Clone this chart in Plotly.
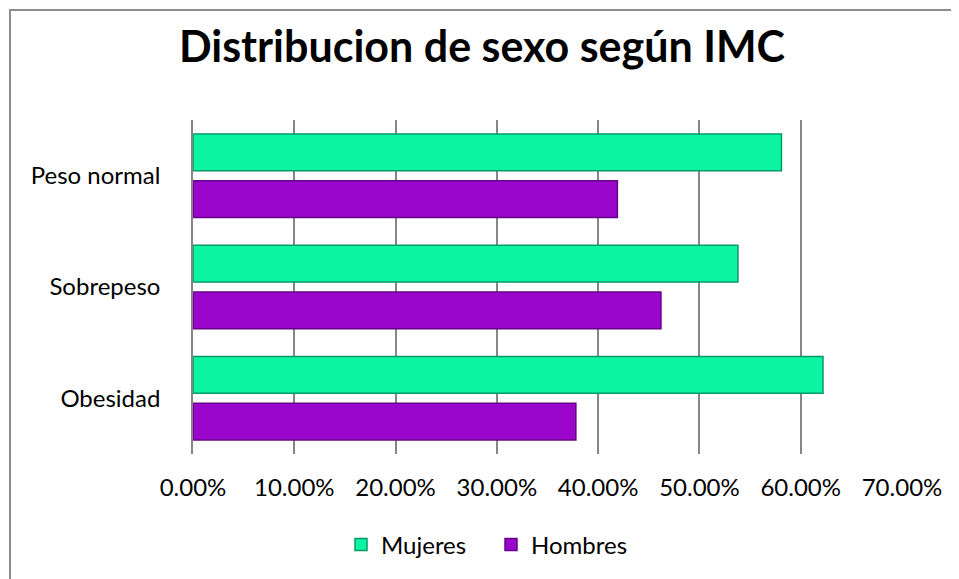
import plotly.graph_objects as go

# datos
categorias = ["Obesidad", "Sobrepeso", "Peso normal"]
mujeres = [0.622, 0.538, 0.581]
hombres = [0.378, 0.462, 0.419]
x_ticks = [0, 0.1, 0.2, 0.3, 0.4, 0.5, 0.6, 0.7]

# la pagina tiene 8px de margen en el body
OFF = 8
W, H = 959 - OFF, 579 - OFF
L, R, T, B = 193 - OFF, 959 - 902, 120 - OFF, 579 - 454
pw, ph = W - L - R, H - T - B


def py(y_px):
    # pixel de pantalla -> coordenada paper vertical
    return (H - B - (y_px - OFF)) / ph


fig = go.Figure()
fig.add_trace(go.Bar(
    y=categorias, x=mujeres, name="Mujeres", orientation="h",
    width=0.33, offset=0.045,
    marker=dict(color="#0BF5A2", line=dict(color="#079A68", width=1.5)),
))
fig.add_trace(go.Bar(
    y=categorias, x=hombres, name="Hombres", orientation="h",
    width=0.33, offset=-0.375,
    marker=dict(color="#9A06CC", line=dict(color="#650488", width=1.5)),
))

# marco exterior del grafico
fig.add_shape(type="rect", xref="paper", yref="paper",
              x0=(10 - OFF - L) / pw, x1=1.5, y0=-1, y1=py(10),
              line=dict(color="#8C8C8C", width=2), fillcolor="rgba(0,0,0,0)",
              layer="below")

fig.update_layout(
    width=W, height=H,
    margin=dict(l=L, r=R, t=T, b=B),
    paper_bgcolor="white", plot_bgcolor="white",
    font=dict(family="Lato, Calibri, sans-serif", size=24, color="black"),
    title=dict(text="<b>Distribucion de sexo según IMC</b>",
               x=(482 - OFF) / W, xanchor="center", xref="container",
               y=1 - (47 - OFF) / H, yanchor="middle", yref="container",
               font=dict(size=43, color="black")),
    xaxis=dict(range=[0, 0.7], tickvals=x_ticks, tickformat=".2%",
               showgrid=True, gridcolor="#868686", gridwidth=1.5,
               zeroline=False, showline=False, ticks="",
               ticklabelstandoff=17, fixedrange=True),
    yaxis=dict(categoryorder="array", categoryarray=categorias,
               showline=True, linecolor="#868686", linewidth=1.5,
               showgrid=False, ticks="", ticklabelstandoff=26,
               fixedrange=True),
    legend=dict(orientation="h", x=(491 - 193) / pw, xanchor="center",
                y=py(545), yanchor="middle",
                font=dict(size=24), itemwidth=30,
                entrywidth=105, entrywidthmode="pixels"),
    showlegend=True,
)

fig.write_html("out.html")
